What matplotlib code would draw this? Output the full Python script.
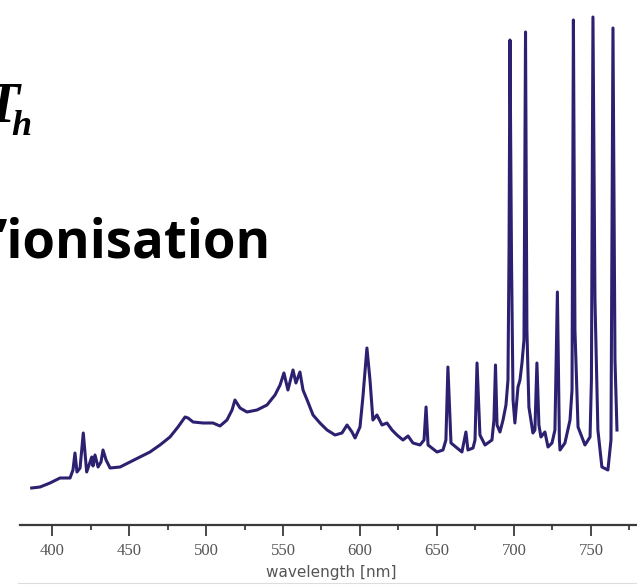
import matplotlib
matplotlib.use('Agg')
import matplotlib.pyplot as plt
from matplotlib.ticker import MultipleLocator
from matplotlib.lines import Line2D

# spectrum (wavelength in nm, intensity in arbitrary units)
wavelength = [386.8, 392.2, 398.7, 405.2, 411.7, 413.6, 414.9, 416.2, 418.2, 420.3,
              422.5, 424.7, 425.8, 426.6, 427.9, 429.9, 431.8, 433.1, 435.1, 437.7,
              444.2, 450.6, 457.1, 463.6, 470.1, 476.6, 481.8, 486.4, 488.3, 491.6,
              498.1, 504.5, 509.1, 513.6, 516.9, 518.8, 522.1, 526.6, 533.1, 539.6,
              544.8, 548.1, 550.6, 553.2, 556.5, 558.4, 561.0, 563.0, 566.2, 569.5,
              574.0, 578.6, 583.8, 588.3, 591.6, 594.8, 596.8, 600.0, 601.9, 604.5,
              606.5, 608.4, 611.0, 614.3, 617.5, 620.8, 624.0, 627.9, 631.2, 634.4,
              639.0, 641.6, 642.9, 644.2, 650.0, 653.9, 655.8, 657.1, 659.1, 663.0,
              666.2, 668.8, 670.1, 673.4, 674.7, 676.0, 677.9, 681.2, 685.7, 687.0,
              688.0, 689.0, 690.9, 692.9, 694.8, 696.1, 696.8, 697.4, 698.4, 699.4,
              700.6, 702.6, 703.9, 705.2, 706.5, 707.5, 708.4, 709.7, 712.3, 713.6,
              714.9, 716.2, 717.5, 720.1, 722.1, 724.7, 726.6, 728.2, 729.5, 729.9,
              733.1, 736.4, 737.7, 738.6, 739.6, 741.6, 746.1, 749.4, 750.3, 751.3,
              752.6, 754.5, 757.1, 761.0, 763.0, 764.3, 765.6, 766.9]
intensity = [37, 38, 42, 47, 47, 55, 72, 53, 57, 92,
             53, 63, 68, 59, 70, 58, 63, 75, 65, 57,
             58, 63, 68, 73, 80, 88, 98, 108, 107, 103,
             102, 102, 99, 105, 115, 125, 117, 113, 115, 120,
             130, 140, 152, 135, 155, 142, 153, 135, 123, 110,
             102, 95, 90, 92, 100, 93, 87, 98, 128, 177,
             145, 105, 110, 100, 102, 95, 90, 85, 89, 82,
             80, 85, 118, 80, 73, 75, 85, 158, 82, 77,
             73, 93, 75, 77, 85, 162, 90, 80, 85, 105,
             160, 100, 93, 105, 120, 145, 275, 485, 265, 125,
             102, 138, 145, 162, 185, 493, 195, 118, 92, 95,
             162, 100, 88, 93, 78, 82, 95, 233, 85, 75,
             82, 105, 135, 505, 195, 98, 80, 88, 145, 508,
             225, 95, 58, 55, 85, 497, 165, 95]

major_ticks = [400, 450, 500, 550, 600, 650, 700, 750]

W, H = 637, 585
fig = plt.figure(figsize=(W / 100, H / 100), dpi=100)
fig.patch.set_facecolor('white')

# axes: axis line sits at y=525 px, starts at x=20 px
ax = fig.add_axes([20 / W, (H - 525) / H, (W - 20) / W, 525 / H])
ax.plot(wavelength, intensity, color='#2b2170', lw=2.2, solid_joinstyle='round')
ax.set_xlim(379.2, 779.9)
ax.set_ylim(0, 525)

for s in ['top', 'right', 'left']:
    ax.spines[s].set_visible(False)
ax.spines['bottom'].set_color('#3a3a3a')
ax.spines['bottom'].set_linewidth(1.6)
ax.set_yticks([])
ax.set_xticks(major_ticks)
ax.xaxis.set_minor_locator(MultipleLocator(25))
ax.tick_params(axis='x', which='major', length=8, width=1.3, color='#3a3a3a',
               pad=5, labelsize=12, labelcolor='#555555')
ax.tick_params(axis='x', which='minor', length=3.5, width=1.3, color='#3a3a3a')
for lab in ax.get_xticklabels():
    lab.set_family('Liberation Serif')

fig.text(331 / W, 1 - 577 / H, 'wavelength [nm]', ha='center', va='baseline',
         fontsize=11, color='#555555', family='DejaVu Sans')

# thin frame line at the bottom of the pasted image
fig.add_artist(Line2D([18 / W, 1], [1 - 583 / H] * 2, color='#dddddd', lw=0.8))

# slide text, cut at the left edge
fig.text(20 / W, 1 - 122 / H, 'T', ha='right', va='baseline', fontsize=40,
         family='Liberation Serif', style='italic', weight='bold')
fig.text(11 / W, 1 - 135 / H, 'h', ha='left', va='baseline', fontsize=26,
         family='Liberation Serif', style='italic', weight='bold')
fig.text(271 / W, 1 - 258 / H, '\u2019ionisation', ha='right', va='baseline',
         fontsize=38, family='Open Sans', weight='bold')

fig.savefig('out.png', dpi=100)
